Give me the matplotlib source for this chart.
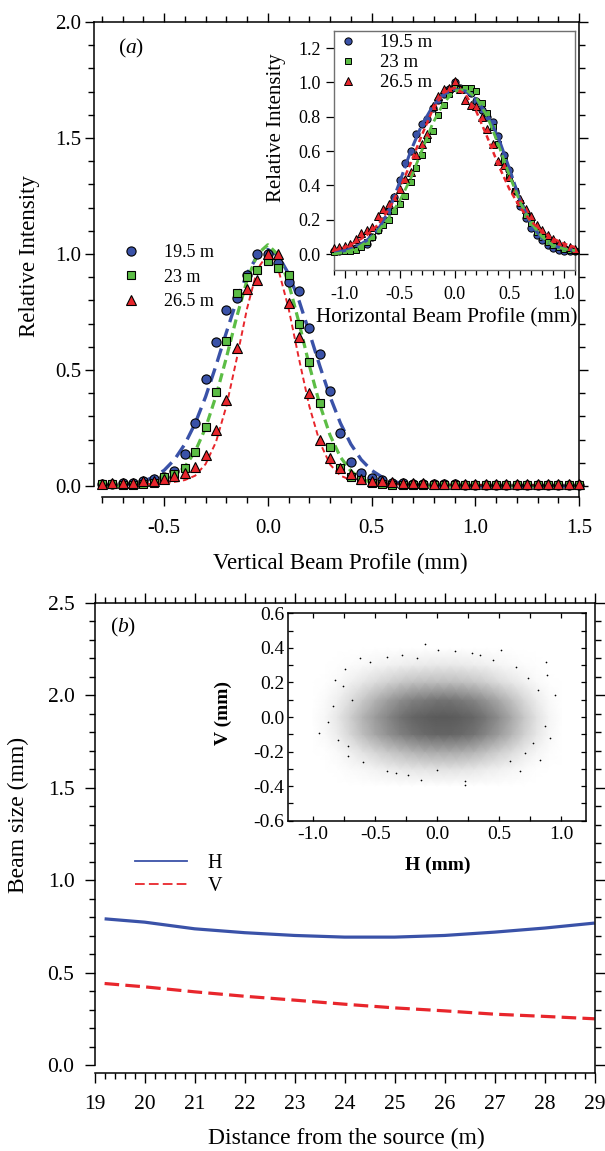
"""Render out.png: measured beam profiles (a) and beam size along the line (b)."""

import matplotlib
matplotlib.use("Agg")
import matplotlib.pyplot as plt
from matplotlib.colors import LinearSegmentedColormap
from matplotlib.lines import Line2D
from matplotlib.ticker import MultipleLocator, FormatStrFormatter

W, H = 605, 1151

plt.rcParams["font.family"] = ["Liberation Serif", "DejaVu Serif"]
plt.rcParams["mathtext.fontset"] = "custom"
plt.rcParams["mathtext.rm"] = "Liberation Serif"
plt.rcParams["mathtext.it"] = "Liberation Serif:italic"
plt.rcParams["mathtext.bf"] = "Liberation Serif:bold"
plt.rcParams["axes.unicode_minus"] = False
plt.rcParams["lines.scale_dashes"] = False

BLUE = "#3a52a8"
GREEN = "#5cbd45"
RED = "#e8262c"
LABELS = ["19.5 m", "23 m", "26.5 m"]

# (a) vertical beam profile, main panel
V_X = [-0.80, -0.75, -0.70, -0.65, -0.60, -0.55, -0.50, -0.45, -0.40, -0.35,
       -0.30, -0.25, -0.20, -0.15, -0.10, -0.05, 0.00, 0.05, 0.10, 0.15,
       0.20, 0.25, 0.30, 0.35, 0.40, 0.45, 0.50, 0.55, 0.60, 0.65,
       0.70, 0.75, 0.80, 0.85, 0.90, 0.95, 1.00, 1.05, 1.10, 1.15,
       1.20, 1.25, 1.30, 1.35, 1.40, 1.45, 1.50]
V_195 = [0.010, 0.010, 0.015, 0.015, 0.020, 0.030, 0.040, 0.066, 0.140, 0.270,
         0.460, 0.620, 0.760, 0.810, 0.910, 1.000, 1.000, 0.960, 0.880, 0.840,
         0.680, 0.570, 0.410, 0.230, 0.105, 0.057, 0.034, 0.025, 0.015, 0.012,
         0.010, 0.008, 0.008, 0.007, 0.007, 0.006, 0.006, 0.006, 0.006, 0.005,
         0.005, 0.005, 0.005, 0.005, 0.005, 0.005, 0.005]
V_23 = [0.008, 0.008, 0.005, 0.005, 0.008, 0.015, 0.040, 0.050, 0.076, 0.148,
        0.256, 0.406, 0.625, 0.830, 0.900, 0.930, 0.970, 0.940, 0.910, 0.700,
        0.536, 0.360, 0.167, 0.080, 0.040, 0.025, 0.012, 0.010, 0.006, 0.005,
        0.004, 0.004, 0.003, 0.003, 0.003, 0.003, 0.003, 0.003, 0.003, 0.003,
        0.003, 0.003, 0.003, 0.003, 0.003, 0.003, 0.003]
V_265 = [0.010, 0.013, 0.015, 0.015, 0.020, 0.023, 0.030, 0.043, 0.057, 0.083,
         0.136, 0.241, 0.372, 0.595, 0.848, 0.890, 1.000, 1.000, 0.787, 0.644,
         0.400, 0.200, 0.119, 0.076, 0.050, 0.029, 0.024, 0.022, 0.018, 0.015,
         0.015, 0.012, 0.010, 0.010, 0.010, 0.010, 0.010, 0.010, 0.010, 0.010,
         0.010, 0.010, 0.010, 0.010, 0.010, 0.010, 0.010]
FIT_195 = [0.001, 0.002, 0.005, 0.011, 0.021, 0.039, 0.068, 0.114, 0.181, 0.271,
           0.385, 0.519, 0.662, 0.800, 0.915, 0.993, 1.020, 0.993, 0.915, 0.800,
           0.662, 0.519, 0.385, 0.271, 0.181, 0.114, 0.068, 0.039, 0.021, 0.011,
           0.005, 0.002, 0.001, 0, 0, 0, 0, 0, 0, 0,
           0, 0, 0, 0, 0, 0, 0]
FIT_23 = [0, 0, 0, 0.001, 0.003, 0.008, 0.020, 0.043, 0.083, 0.150,
          0.251, 0.388, 0.553, 0.729, 0.888, 1.000, 1.040, 0.996, 0.875, 0.705,
          0.520, 0.353, 0.219, 0.125, 0.065, 0.031, 0.014, 0.005, 0.002, 0,
          0, 0, 0, 0, 0, 0, 0, 0, 0, 0,
          0, 0, 0, 0, 0, 0, 0]
FIT_265 = [0.005, 0.005, 0.006, 0.007, 0.008, 0.010, 0.013, 0.018, 0.026, 0.045,
           0.095, 0.190, 0.344, 0.549, 0.766, 0.936, 1.000, 0.936, 0.766, 0.549,
           0.344, 0.190, 0.093, 0.045, 0.026, 0.018, 0.013, 0.010, 0.008, 0.007,
           0.006, 0.005, 0.005, 0.005, 0.005, 0.005, 0.005, 0.005, 0.005, 0.005,
           0.005, 0.005, 0.005, 0.005, 0.005, 0.005, 0.005]

# (a) inset: horizontal beam profile
H_X = [-1.10, -1.05, -1.00, -0.95, -0.90, -0.85, -0.80, -0.75, -0.70, -0.65,
       -0.60, -0.55, -0.50, -0.45, -0.40, -0.35, -0.30, -0.25, -0.20, -0.15,
       -0.10, -0.05, 0.00, 0.05, 0.10, 0.15, 0.20, 0.25, 0.30, 0.35,
       0.40, 0.45, 0.50, 0.55, 0.60, 0.65, 0.70, 0.75, 0.80, 0.85,
       0.90, 0.95, 1.00, 1.05, 1.10]
H_195 = [0.020, 0.020, 0.025, 0.030, 0.035, 0.045, 0.060, 0.100, 0.140, 0.190,
         0.250, 0.330, 0.430, 0.530, 0.600, 0.700, 0.760, 0.790, 0.850, 0.900,
         0.930, 0.960, 1.000, 0.970, 0.960, 0.940, 0.890, 0.840, 0.800, 0.770,
         0.690, 0.580, 0.490, 0.370, 0.280, 0.210, 0.150, 0.110, 0.080, 0.055,
         0.035, 0.025, 0.020, 0.020, 0.020]
H_23 = [0.010, 0.015, 0.020, 0.020, 0.025, 0.040, 0.070, 0.100, 0.140, 0.170,
        0.200, 0.250, 0.290, 0.340, 0.420, 0.500, 0.580, 0.670, 0.720, 0.810,
        0.870, 0.930, 0.970, 0.960, 0.970, 0.970, 0.950, 0.880, 0.820, 0.740,
        0.640, 0.540, 0.450, 0.370, 0.300, 0.230, 0.180, 0.130, 0.100, 0.070,
        0.050, 0.040, 0.030, 0.025, 0.020]
H_265 = [0.035, 0.040, 0.045, 0.060, 0.085, 0.120, 0.140, 0.160, 0.220, 0.260,
         0.290, 0.330, 0.380, 0.440, 0.480, 0.580, 0.640, 0.700, 0.860, 0.920,
         0.960, 0.970, 1.010, 0.960, 0.900, 0.870, 0.860, 0.800, 0.730, 0.640,
         0.540, 0.520, 0.450, 0.380, 0.320, 0.260, 0.220, 0.170, 0.140, 0.110,
         0.090, 0.065, 0.050, 0.040, 0.030]
HF_X = [-1.1, -1.0, -0.9, -0.8, -0.7, -0.6, -0.5, -0.4, -0.3, -0.2, -0.1, 0.0,
        0.1, 0.2, 0.3, 0.4, 0.5, 0.6, 0.7, 0.8, 0.9, 1.0, 1.1]
HF_195 = [0.01, 0.02, 0.04, 0.08, 0.14, 0.25, 0.42, 0.60, 0.75, 0.86, 0.93, 0.96,
          0.95, 0.90, 0.81, 0.68, 0.50, 0.31, 0.17, 0.09, 0.05, 0.03, 0.02]
HF_23 = [0.00, 0.01, 0.03, 0.07, 0.13, 0.21, 0.31, 0.44, 0.60, 0.76, 0.88, 0.95,
         0.96, 0.91, 0.80, 0.64, 0.46, 0.30, 0.18, 0.10, 0.05, 0.03, 0.02]
HF_265 = [0.02, 0.04, 0.07, 0.11, 0.17, 0.26, 0.38, 0.53, 0.69, 0.84, 0.94, 0.97,
          0.93, 0.83, 0.68, 0.52, 0.38, 0.27, 0.19, 0.13, 0.09, 0.06, 0.04]

# (b) beam size along the line
DIST = [19.2, 20, 21, 22, 23, 24, 25, 26, 27, 28, 29]
SIZE_H = [0.791, 0.773, 0.737, 0.716, 0.701, 0.692, 0.692, 0.701, 0.719, 0.741, 0.768]
SIZE_V = [0.441, 0.423, 0.396, 0.372, 0.351, 0.329, 0.309, 0.293, 0.275, 0.263, 0.250]

# (b) inset: ray cloud, as darkness read on a 0.1 mm grid plus stray rays
DENS_X = [-1.0, -0.9, -0.8, -0.7, -0.6, -0.5, -0.4, -0.3, -0.2, -0.1, 0.0,
          0.1, 0.2, 0.3, 0.4, 0.5, 0.6, 0.7, 0.8, 0.9, 1.0]
DENS_Y = [-0.4, -0.3, -0.2, -0.1, 0.0, 0.1, 0.2, 0.3, 0.4]
DENS = [
    [0] * 21,
    [0, 0, 0.01, 0.03, 0.05, 0.08, 0.11, 0.14, 0.16, 0.17, 0.18, 0.18, 0.17, 0.15, 0.12, 0.09, 0.06, 0.03, 0.01, 0, 0],
    [0, 0.01, 0.04, 0.10, 0.18, 0.26, 0.34, 0.40, 0.46, 0.50, 0.52, 0.52, 0.50, 0.46, 0.38, 0.30, 0.22, 0.13, 0.06, 0.02, 0],
    [0, 0.04, 0.12, 0.25, 0.40, 0.54, 0.66, 0.76, 0.84, 0.90, 0.93, 0.93, 0.90, 0.84, 0.73, 0.60, 0.45, 0.29, 0.15, 0.05, 0],
    [0.01, 0.05, 0.15, 0.30, 0.46, 0.60, 0.73, 0.85, 0.93, 0.97, 1.00, 1.00, 0.97, 0.92, 0.82, 0.68, 0.52, 0.34, 0.18, 0.06, 0.01],
    [0, 0.03, 0.10, 0.21, 0.33, 0.46, 0.58, 0.68, 0.76, 0.80, 0.84, 0.84, 0.80, 0.74, 0.64, 0.52, 0.38, 0.24, 0.12, 0.04, 0],
    [0, 0.01, 0.04, 0.09, 0.15, 0.22, 0.28, 0.34, 0.38, 0.40, 0.41, 0.41, 0.39, 0.35, 0.29, 0.22, 0.15, 0.09, 0.04, 0.01, 0],
    [0, 0, 0.01, 0.02, 0.04, 0.06, 0.08, 0.10, 0.12, 0.13, 0.14, 0.14, 0.13, 0.11, 0.09, 0.06, 0.04, 0.02, 0.01, 0, 0],
    [0] * 21,
]
STRAY_H = [-0.95, -0.878, -0.838, -0.824, -0.744, -0.623, -0.717, -0.601, -0.408, -0.234,
           -0.134, -0.099, 0.008, 0.142, 0.277, 0.518, 0.223, 0.228, 0.671, 0.827,
           0.881, 0.889, 0.948, 0.907, 0.867, 0.813, 0.733, 0.585, -0.005, -0.328,
           -0.542, -0.408, -0.287, -0.166, 0.344, 0.451, 0.639, 0.706, 0.773, -0.797,
           -0.717, -0.69, -0.757]
STRAY_V = [-0.092, -0.031, 0.065, 0.215, 0.277, 0.34, -0.227, -0.262, -0.313, -0.333,
           -0.362, 0.423, 0.385, 0.379, 0.373, 0.385, -0.371, -0.394, -0.313, -0.25,
           0.321, 0.244, 0.129, -0.121, -0.054, 0.158, 0.225, -0.256, -0.304, -0.323,
           0.321, 0.35, 0.36, 0.34, 0.36, 0.331, 0.292, -0.208, -0.15, -0.131,
           -0.169, 0.1, 0.177]


def px_axes(fig, left, top, right, bottom):
    return fig.add_axes([left / W, 1 - bottom / H, (right - left) / W, (bottom - top) / H])


def ftext(fig, x, y, s, **kw):
    fig.text(x / W, 1 - y / H, s, ha="center", va="center", **kw)


fig = plt.figure(figsize=(W / 100, H / 100), dpi=100)

# ---------------- (a) main ----------------
ax = px_axes(fig, 94, 22, 579, 497)
mk = dict(linestyle="none", mec="black", mew=0.8, clip_on=False, zorder=3)
hb, = ax.plot(V_X, V_195, marker="o", ms=6.6, mfc=BLUE, **mk)
hg, = ax.plot(V_X, V_23, marker="s", ms=6.0, mfc=GREEN, **mk)
hr, = ax.plot(V_X, V_265, marker="^", ms=7.0, mfc=RED, **mk)
ax.plot(V_X, FIT_195, color=BLUE, lw=2.4, dashes=(10, 5), zorder=2)
ax.plot(V_X, FIT_23, color=GREEN, lw=2.3, dashes=(6.5, 3.5), zorder=2)
ax.plot(V_X, FIT_265, color=RED, lw=1.4, dashes=(4, 2.5), zorder=2)
ax.set_xlim(-0.838, 1.5)
ax.set_ylim(-0.047, 2.0)
ax.spines["bottom"].set_bounds(-0.8, 1.5)
ax.spines["left"].set_bounds(0, 2.0)
ax.xaxis.set_major_locator(MultipleLocator(0.5))
ax.xaxis.set_minor_locator(MultipleLocator(0.1))
ax.yaxis.set_major_locator(MultipleLocator(0.5))
ax.yaxis.set_minor_locator(MultipleLocator(0.1))
ax.xaxis.set_major_formatter(FormatStrFormatter("%.1f"))
ax.yaxis.set_major_formatter(FormatStrFormatter("%.1f"))
ax.tick_params(which="both", direction="out", top=True, right=True, width=1.0)
ax.tick_params(which="major", length=6.5)
ax.tick_params(which="minor", length=4)
ax.tick_params(axis="x", labelsize=15, pad=9)
ax.tick_params(axis="y", labelsize=15, pad=2.5)
for s in ax.spines.values():
    s.set_linewidth(1.1)
ax.legend([hb, hg, hr], LABELS, loc="upper left", bbox_to_anchor=(122 / W, 1 - 244 / H),
          bbox_transform=fig.transFigure, frameon=False, fontsize=13, handlelength=1.0,
          handletextpad=1.3, labelspacing=0.42, borderpad=0, borderaxespad=0, numpoints=1)

# ---------------- (a) inset ----------------
ai = px_axes(fig, 334, 31, 575, 270)
mk_i = dict(linestyle="none", mec="black", mew=0.7, clip_on=False, zorder=3)
ib, = ai.plot(H_X, H_195, marker="o", ms=5.2, mfc=BLUE, **mk_i)
ig, = ai.plot(H_X, H_23, marker="s", ms=4.8, mfc=GREEN, **mk_i)
ir, = ai.plot(H_X, H_265, marker="^", ms=5.6, mfc=RED, **mk_i)
ai.plot(HF_X, HF_195, color=BLUE, lw=2.2, dashes=(14, 3), zorder=4)
ai.plot(HF_X, HF_23, color=GREEN, lw=2.0, dashes=(6, 3), zorder=4)
ai.plot(HF_X, HF_265, color=RED, lw=1.8, dashes=(4, 2.5), zorder=4)
ai.set_xlim(-1.1, 1.1)
ai.set_ylim(-0.093, 1.3)
ai.xaxis.set_major_locator(MultipleLocator(0.5))
ai.xaxis.set_minor_locator(MultipleLocator(0.1))
ai.yaxis.set_major_locator(MultipleLocator(0.2))
ai.xaxis.set_major_formatter(FormatStrFormatter("%.1f"))
ai.yaxis.set_major_formatter(FormatStrFormatter("%.1f"))
ai.tick_params(which="both", direction="out", width=0.9, labelsize=13)
ai.tick_params(which="major", length=5.5)
ai.tick_params(which="minor", length=3.5)
ai.tick_params(axis="x", pad=6)
ai.tick_params(axis="y", pad=4)
for s in ai.spines.values():
    s.set_linewidth(1.0)
    s.set_edgecolor("#707070")
ai.legend([ib, ig, ir], LABELS, loc="upper left", bbox_to_anchor=(338.6 / W, 1 - 34 / H),
          bbox_transform=fig.transFigure, frameon=False, fontsize=13.5, handlelength=1.0,
          handletextpad=1.2, labelspacing=0.16, borderpad=0, borderaxespad=0, numpoints=1)

# ---------------- (b) main ----------------
bx = px_axes(fig, 94.6, 603, 594.6, 1073)
bx.plot(DIST, SIZE_H, color=BLUE, lw=2.3, solid_capstyle="butt")
bx.plot(DIST, SIZE_V, color=RED, lw=2.3, dashes=(10.5, 4.5))
bx.set_xlim(19, 29)
bx.set_ylim(-0.0433, 2.5)
bx.spines["left"].set_bounds(0, 2.5)
bx.xaxis.set_major_locator(MultipleLocator(1))
bx.xaxis.set_minor_locator(MultipleLocator(0.2))
bx.yaxis.set_major_locator(MultipleLocator(0.5))
bx.yaxis.set_minor_locator(MultipleLocator(0.1))
bx.yaxis.set_major_formatter(FormatStrFormatter("%.1f"))
bx.tick_params(which="both", direction="out", top=True, right=True, width=1.0)
bx.tick_params(which="major", length=7)
bx.tick_params(which="minor", length=4)
bx.tick_params(axis="x", labelsize=15.5, pad=9)
bx.tick_params(axis="y", labelsize=15.5, pad=7.5)
for s in bx.spines.values():
    s.set_linewidth(1.1)
leg_h = [Line2D([], [], color=BLUE, lw=1.3), Line2D([], [], color=RED, lw=1.3, dashes=(7, 3))]
bx.legend(leg_h, ["H", "V"], loc="upper left", bbox_to_anchor=(135 / W, 1 - 854 / H),
          bbox_transform=fig.transFigure, frameon=False, fontsize=14.5, handlelength=2.6,
          handletextpad=1.0, labelspacing=0.2, borderpad=0, borderaxespad=0)

# ---------------- (b) inset ----------------
si = px_axes(fig, 288.3, 613.3, 586, 820.7)
cloud = LinearSegmentedColormap.from_list("cloud", ["white", "#5a5a5a"])
si.pcolormesh(DENS_X, DENS_Y, DENS, shading="gouraud", cmap=cloud, vmin=0, vmax=1, zorder=1)
si.scatter(STRAY_H, STRAY_V, s=1.5, c="black", linewidths=0, zorder=2)
si.set_xlim(-1.2, 1.2)
si.set_ylim(-0.6, 0.6)
si.xaxis.set_major_locator(MultipleLocator(0.5))
si.xaxis.set_minor_locator(MultipleLocator(0.25))
si.yaxis.set_major_locator(MultipleLocator(0.2))
si.yaxis.set_minor_locator(MultipleLocator(0.1))
si.xaxis.set_major_formatter(FormatStrFormatter("%.1f"))
si.yaxis.set_major_formatter(FormatStrFormatter("%.1f"))
si.tick_params(which="both", direction="in", top=True, right=True, width=0.9,
               length=3.5, labelsize=14)
si.tick_params(axis="x", pad=4)
si.tick_params(axis="y", pad=3)
for s in si.spines.values():
    s.set_linewidth(1.1)

# ---------------- texts ----------------
ftext(fig, 340, 563, "Vertical Beam Profile (mm)", fontsize=16.5)
ftext(fig, 30, 256, "Relative Intensity", fontsize=16.5, rotation=90)
ftext(fig, 447, 318, "Horizontal Beam Profile (mm)", fontsize=15.3)
ftext(fig, 276, 128, "Relative Intensity", fontsize=15, rotation=90)
ftext(fig, 346, 1138, "Distance from the source (m)", fontsize=17)
ftext(fig, 18, 815, "Beam size (mm)", fontsize=17, rotation=90)
ftext(fig, 438, 865, "H (mm)", fontsize=14, fontweight="bold")
ftext(fig, 223, 713, "V (mm)", fontsize=14, fontweight="bold", rotation=90)
ftext(fig, 131, 48, r"($\mathit{a}$)", fontsize=15.5)
ftext(fig, 123, 627, r"($\mathit{b}$)", fontsize=15.5)

fig.savefig("out.png", dpi=100)
